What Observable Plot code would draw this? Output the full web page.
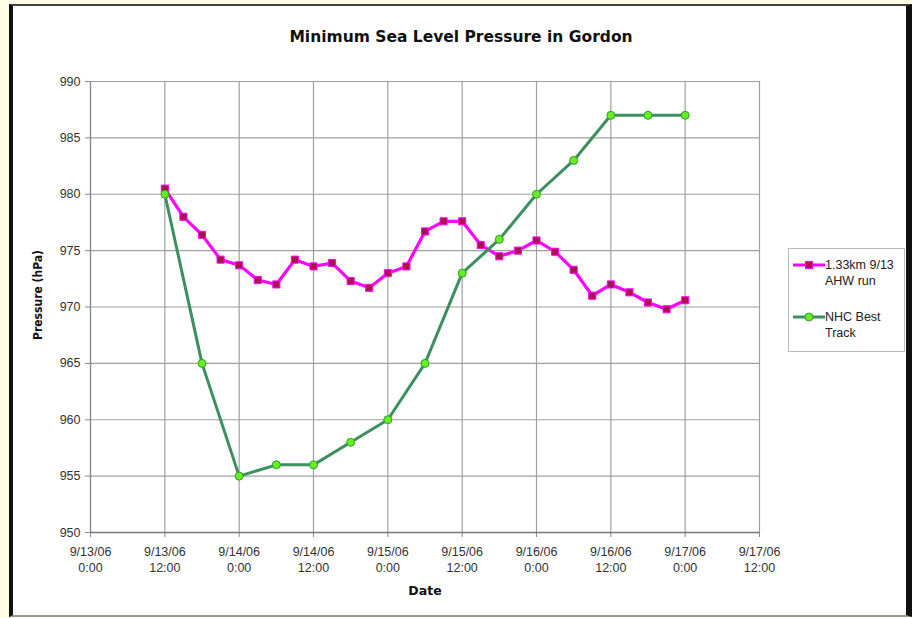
<!DOCTYPE html>
<html>
<head>
<meta charset="utf-8">
<script src="https://cdn.jsdelivr.net/npm/d3@7"></script>
<script src="https://cdn.jsdelivr.net/npm/@observablehq/plot@0.6"></script>
<style>
  html, body { margin: 0; padding: 0; background: #FFFDE4; }
  #wrap { position: relative; width: 912px; height: 618px; background: #FFFDE4; overflow: hidden; }
  #frame { position: absolute; left: 9px; top: 4px; right: 0px; bottom: 1px; background: #fff;
           border-left: 4px solid #111; border-top: 2px solid #444; border-right: 6px solid #111; border-bottom: 2px solid #999; box-sizing: border-box; }
  #chart { position: absolute; left: 0; top: 0; }
  #title { position: absolute; left: 0; width: 922px; top: 28px; text-align: center;
           font: bold 15.5px "DejaVu Sans", sans-serif; color: #111; }
  #ylab { position: absolute; left: 38px; top: 295px; transform: translate(-50%, -50%) rotate(-90deg);
          font: bold 12px "DejaVu Sans Condensed", "DejaVu Sans", sans-serif; color: #111; white-space: nowrap; }
  #xlab { position: absolute; left: 425px; top: 590px; transform: translate(-50%, -50%);
          font: bold 12.5px "DejaVu Sans", sans-serif; color: #111; }
  #legend { position: absolute; left: 788px; top: 248px; width: 117px; height: 104px; box-sizing: border-box;
            border: 1px solid #bbb; background: #fff; font: 12.5px "Liberation Sans", Arial, sans-serif; color: #222; }
  .lg { position: absolute; left: 36px; line-height: 16px; }
  #chart text { font-family: "Liberation Sans", Arial, sans-serif; }
</style>
</head>
<body>
<div id="wrap">
  <div id="frame"></div>
  <div id="chart"></div>
  <div id="title">Minimum Sea Level Pressure in Gordon</div>
  <div id="ylab">Pressure (hPa)</div>
  <div id="xlab">Date</div>
  <div id="legend">
    <svg width="40" height="104" style="position:absolute;left:0;top:0">
      <line x1="4" x2="36" y1="16" y2="16" stroke="#FF00FF" stroke-width="3"/>
      <rect x="16.5" y="12.5" width="7" height="7" fill="#A8144C" stroke="#FF00FF" stroke-width="1"/>
      <line x1="4" x2="36" y1="68" y2="68" stroke="#3C8F5E" stroke-width="3"/>
      <circle cx="20" cy="68" r="4" fill="#66EE22" stroke="#2E9E2E" stroke-width="1"/>
    </svg>
    <div class="lg" style="top:8px">1.33km 9/13<br>AHW run</div>
    <div class="lg" style="top:60px">NHC Best<br>Track</div>
  </div>
</div>
<script>
// 1.33km 9/13 AHW run: 3-hourly from 9/13/06 12:00 to 9/17/06 0:00
const ahwStart = "2006-09-13T12:00Z";
const ahwValues = [980.5, 978.0, 976.4, 974.2, 973.7, 972.4, 972.0, 974.2, 973.6, 973.9,
                   972.3, 971.7, 973.0, 973.6, 976.7, 977.6, 977.6, 975.5, 974.5, 975.0,
                   975.9, 974.9, 973.3, 971.0, 972.0, 971.3, 970.4, 969.8, 970.6];
// NHC Best Track: 6-hourly from 9/13/06 12:00 to 9/17/06 0:00
const nhcStart = "2006-09-13T12:00Z";
const nhcValues = [980, 965, 955, 956, 956, 958, 960, 965, 973, 976, 980, 983, 987, 987, 987];

const xTickLabels = ["9/13/06\n0:00", "9/13/06\n12:00", "9/14/06\n0:00", "9/14/06\n12:00",
                     "9/15/06\n0:00", "9/15/06\n12:00", "9/16/06\n0:00", "9/16/06\n12:00",
                     "9/17/06\n0:00", "9/17/06\n12:00"];
const yTicks = [950, 955, 960, 965, 970, 975, 980, 985, 990];

const t0 = new Date("2006-09-13T00:00Z");
const xTicks = xTickLabels.map((_, i) => d3.utcHour.offset(t0, 12 * i));
const ahw = ahwValues.map((v, i) => ({t: d3.utcHour.offset(new Date(ahwStart), 3 * i), p: v}));
const nhc = nhcValues.map((v, i) => ({t: d3.utcHour.offset(new Date(nhcStart), 6 * i), p: v}));

const chart = Plot.plot({
  width: 912,
  height: 618,
  marginLeft: 90,
  marginRight: 153,
  marginTop: 81,
  marginBottom: 86,
  style: {background: "transparent", fontSize: "12.5px", color: "#333"},
  x: {type: "utc", domain: [xTicks[0], xTicks[xTicks.length - 1]]},
  y: {domain: [950, 990]},
  marks: [
    Plot.gridX(xTicks, {stroke: "#a0a0a0", strokeOpacity: 1, strokeWidth: 1.2}),
    Plot.gridY(yTicks, {stroke: "#a0a0a0", strokeOpacity: 1, strokeWidth: 1.2}),
    Plot.axisY(yTicks, {tickSize: 5, tickPadding: 5, stroke: "#888", fill: "#333", label: null, fontSize: 12.5}),
    Plot.axisX(xTicks, {tickSize: 5, stroke: "#888", text: null, label: null}),
    Plot.text(xTicks, {x: d => d, text: (d, i) => xTickLabels[i], frameAnchor: "bottom", lineAnchor: "top",
                       dy: 12, lineHeight: 1.3, fontSize: 12.5, fill: "#333"}),
    Plot.ruleX([xTicks[0]], {stroke: "#888", strokeWidth: 1.2}),
    Plot.ruleY([950], {stroke: "#777", strokeWidth: 1.4}),
    Plot.line(ahw, {x: "t", y: "p", stroke: "#FF00FF", strokeWidth: 3.2}),
    Plot.dot(ahw, {x: "t", y: "p", symbol: "square", r: 4, fill: "#A8144C", stroke: "#FF00FF", strokeWidth: 1}),
    Plot.line(nhc, {x: "t", y: "p", stroke: "#3C8F5E", strokeWidth: 3}),
    Plot.dot(nhc, {x: "t", y: "p", r: 4, fill: "#66EE22", stroke: "#2E9E2E", strokeWidth: 1})
  ]
});
document.getElementById("chart").appendChild(chart);
</script>
</body>
</html>
